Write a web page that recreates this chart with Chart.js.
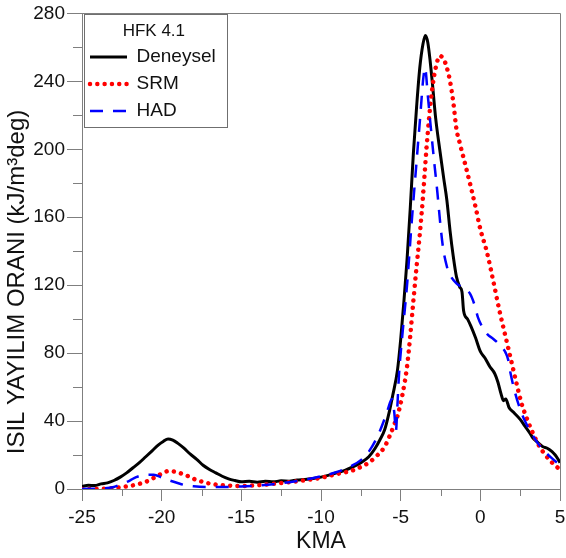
<!DOCTYPE html>
<html>
<head>
<meta charset="utf-8">
<script src="https://cdn.jsdelivr.net/npm/chart.js@4/dist/chart.umd.min.js"></script>
<style>
  html, body { margin: 0; padding: 0; background: #fff; }
  canvas { display: block; }
</style>
</head>
<body>
<canvas id="chart" width="566" height="558"></canvas>
<script>
// values
const denX = [-25, -24.6, -24.2, -23.8, -23.4, -23, -22.6, -22.2, -21.8, -21.4, -21, -20.6, -20.2, -19.9, -19.6, -19.3, -19, -18.6, -18.2, -17.8, -17.4, -17, -16.6, -16.2, -15.8, -15.4, -15, -14.5, -14, -13.5, -13, -12.5, -12, -11.5, -11, -10.5, -10, -9.5, -9, -8.5, -8, -7.5, -7, -6.6, -6.3, -6, -5.7, -5.5, -5.2, -5, -4.8, -4.6, -4.4, -4.2, -4, -3.8, -3.6, -3.45, -3.3, -3.15, -3, -2.8, -2.55, -2.3, -2.1, -1.9, -1.7, -1.5, -1.3, -1.15, -1.05, -0.8, -0.6, -0.3, 0, 0.3, 0.6, 0.9, 1.1, 1.3, 1.45, 1.6, 1.8, 2.1, 2.5, 2.8, 3.1, 3.3, 3.6, 3.9, 4.2, 4.5, 4.7, 4.85, 5];
const denY = [1.5, 2.2, 2.0, 3.0, 3.6, 5.0, 7.0, 9.5, 12.5, 15.5, 19, 22.5, 26, 28, 29.5, 28.8, 27, 24, 20.5, 17.5, 14, 11.5, 9.5, 7.5, 6.0, 5.0, 4.2, 4.5, 4.0, 4.6, 4.2, 4.8, 4.6, 5.3, 5.6, 6.2, 7.0, 8.2, 9.6, 11, 13, 15.5, 19, 24, 29, 35, 46, 55, 70, 88, 110, 135, 165, 198, 225, 248, 262, 267, 263, 252, 238, 218, 200, 183, 170, 152, 137, 125, 119, 116, 105, 100, 96, 89, 81, 77, 72, 68, 63, 56, 52, 53, 48, 45, 41, 37, 33, 30, 27.5, 25, 24, 22, 20, 18, 15.5];

const srmX = [-25, -24, -23.5, -23, -22.5, -22, -21.5, -21, -20.5, -20, -19.6, -19.2, -18.8, -18.4, -18, -17.5, -17, -16.5, -16, -15, -14, -13, -12, -11, -10, -9, -8, -7.5, -7, -6.5, -6, -5.7, -5.4, -5.2, -4.9, -4.6, -4.4, -4.2, -4, -3.8, -3.6, -3.4, -3.2, -3, -2.8, -2.55, -2.3, -2.1, -1.9, -1.7, -1.5, -1.3, -1, -0.6, -0.3, 0, 0.4, 0.8, 1.2, 1.6, 2, 2.3, 2.6, 2.9, 3.2, 3.6, 4, 4.4, 4.8, 5];
const srmY = [0, 0, 0.3, 0.6, 1.2, 1.8, 2.8, 4.2, 6.5, 9, 10.5, 10.2, 9.2, 7.8, 6, 4.4, 3.2, 2.5, 2.1, 1.8, 2.2, 3, 4, 5.2, 6.6, 8.8, 11, 13, 15.5, 19.5, 25, 31, 38, 43, 55, 72, 90, 111, 131, 150, 172, 198, 220, 237, 248, 255, 253, 248, 240, 228, 212, 204, 193, 178, 166, 153, 140, 123, 105, 89, 73, 61, 50, 42, 35, 27, 21, 16.5, 13, 11.5];

const hadX = [-25, -24, -23, -22.5, -22, -21.6, -21, -20.5, -20, -19.5, -19, -18.5, -18, -17, -16, -15, -14, -13, -12, -11, -10, -9, -8, -7.5, -7, -6.5, -6.1, -5.8, -5.55, -5.4, -5.3, -5.2, -5.1, -4.9, -4.6, -4.3, -4, -3.75, -3.6, -3.47, -3.3, -3.1, -2.9, -2.7, -2.5, -2.34, -2.1, -1.9, -1.5, -1.1, -0.65, -0.35, -0.15, 0.15, 0.45, 0.8, 1.1, 1.4, 1.6, 1.75, 1.9, 2.2, 2.5, 2.8, 3.2, 3.6, 4, 4.5, 5];
const hadY = [0, 0.3, 1.2, 3, 5, 7, 8.3, 8.4, 6.8, 5, 3.5, 2.2, 1.6, 1.2, 1.2, 1.5, 2, 2.8, 4, 5.5, 7.5, 10, 14, 17, 22, 30, 39, 47, 53, 45, 34, 50, 68, 90, 120, 158, 193, 222, 240, 248, 232, 212, 193, 175, 155, 142, 131, 126, 121, 118.5, 115, 108, 101, 95, 91, 88.5, 86, 83, 80, 76, 68, 56, 47, 40, 33, 27, 22.5, 18, 14];

const seriesNames = ['Deneysel', 'SRM', 'HAD'];
const legendTitle = 'HFK 4.1';
const xTitle = 'KMA';
const yTitle = 'ISIL YAYILIM ORANI (kJ/m³deg)';
const xMinor = [-22.5, -17.5, -12.5, -7.5, -2.5, 2.5];
const yMinor = [20, 60, 100, 140, 180, 220, 260];

const axisGray = '#7f7f7f';
const pair = (xs, ys) => xs.map((x, i) => ({ x, y: ys[i] }));

Chart.defaults.font.family = '"Liberation Sans", Arial, sans-serif';
Chart.defaults.color = '#111';

// minor ticks, top/right frame, legend box and the y title
const extras = {
  id: 'extras',
  afterDraw(chart) {
    const { ctx, chartArea: a, scales: { x, y }, legend } = chart;
    ctx.save();
    ctx.strokeStyle = axisGray;
    ctx.lineWidth = 1;
    ctx.beginPath();
    xMinor.forEach(v => {
      const px = Math.round(x.getPixelForValue(v)) + 0.5;
      ctx.moveTo(px, a.bottom);
      ctx.lineTo(px, a.bottom + 7);
    });
    yMinor.forEach(v => {
      const py = Math.round(y.getPixelForValue(v)) + 0.5;
      ctx.moveTo(a.left - 9, py);
      ctx.lineTo(a.left, py);
    });
    // frame
    ctx.moveTo(a.left, Math.round(a.top) + 0.5);
    ctx.lineTo(Math.round(a.right) + 0.5, Math.round(a.top) + 0.5);
    ctx.lineTo(Math.round(a.right) + 0.5, a.bottom);
    ctx.stroke();

    // legend border
    const boxes = legend.legendHitBoxes;
    const last = boxes[boxes.length - 1];
    const right = Math.max(...boxes.map(b => b.left + b.width));
    const top = Math.round(a.top) + 1.5;
    ctx.strokeStyle = '#6f6f6f';
    ctx.strokeRect(Math.round(a.left) + 2.5, top,
      Math.round(right + 11 - a.left - 2), Math.round(last.top + last.height + 7 - top));

    // y axis title
    ctx.fillStyle = '#111';
    ctx.font = '24px "Liberation Sans", Arial, sans-serif';
    ctx.textAlign = 'center';
    ctx.textBaseline = 'middle';
    ctx.translate(17, 282);
    ctx.rotate(-Math.PI / 2);
    ctx.fillText(yTitle, 0, 0);
    ctx.restore();
  }
};

new Chart(document.getElementById('chart'), {
  type: 'line',
  data: {
    datasets: [
      {
        label: seriesNames[0],
        data: pair(denX, denY),
        borderColor: '#000',
        borderWidth: 3,
        order: 3,
      },
      {
        label: seriesNames[1],
        data: pair(srmX, srmY),
        borderColor: '#ff0000',
        borderWidth: 4.5,
        borderDash: [0.01, 7.3],
        borderCapStyle: 'round',
        order: 2,
      },
      {
        label: seriesNames[2],
        data: pair(hadX, hadY),
        borderColor: '#0000ff',
        borderWidth: 2.5,
        borderDash: [13, 10],
        order: 1,
      },
    ],
  },
  options: {
    responsive: false,
    animation: false,
    devicePixelRatio: 1,
    layout: { padding: { top: 12, right: 6, left: 0, bottom: 0 } },
    elements: {
      point: { radius: 0 },
      line: { cubicInterpolationMode: 'monotone', fill: false },
    },
    plugins: {
      tooltip: { enabled: false },
      legend: {
        position: 'chartArea',
        align: 'start',
        labels: {
          usePointStyle: true,
          pointStyleWidth: 37,
          padding: 8,
          color: '#111',
          font: { size: 19 },
          generateLabels: (chart) => chart.data.datasets.map((ds, i) => ({
            text: ds.label,
            datasetIndex: i,
            hidden: false,
            pointStyle: 'line',
            strokeStyle: ds.borderColor,
            fillStyle: ds.borderColor,
            lineWidth: ds.borderWidth,
            lineDash: ds.borderDash || [],
            lineCap: ds.borderCapStyle || 'butt',
          })),
        },
        title: {
          display: true,
          text: legendTitle,
          color: '#111',
          font: { size: 17, lineHeight: 1 },
          padding: { top: 22.5, bottom: 0 },
        },
      },
    },
    scales: {
      x: {
        type: 'linear',
        min: -25,
        max: 5,
        ticks: { stepSize: 5, font: { size: 19 }, padding: 5, color: '#111' },
        grid: { drawOnChartArea: false, tickLength: 12, color: axisGray },
        border: { color: axisGray },
        title: { display: true, text: xTitle, font: { size: 23 }, color: '#111', padding: { top: 0, bottom: 3 } },
        afterFit: (s) => { s.height = 69; s.paddingLeft = 0; s.paddingRight = 0; },
      },
      y: {
        min: 0,
        max: 280,
        ticks: { stepSize: 40, font: { size: 19 }, padding: 2, color: '#111' },
        grid: { drawOnChartArea: false, tickLength: 15, color: axisGray },
        border: { color: axisGray },
        afterFit: (s) => { s.width = 82; },
      },
    },
  },
  plugins: [extras],
});
</script>
</body>
</html>
